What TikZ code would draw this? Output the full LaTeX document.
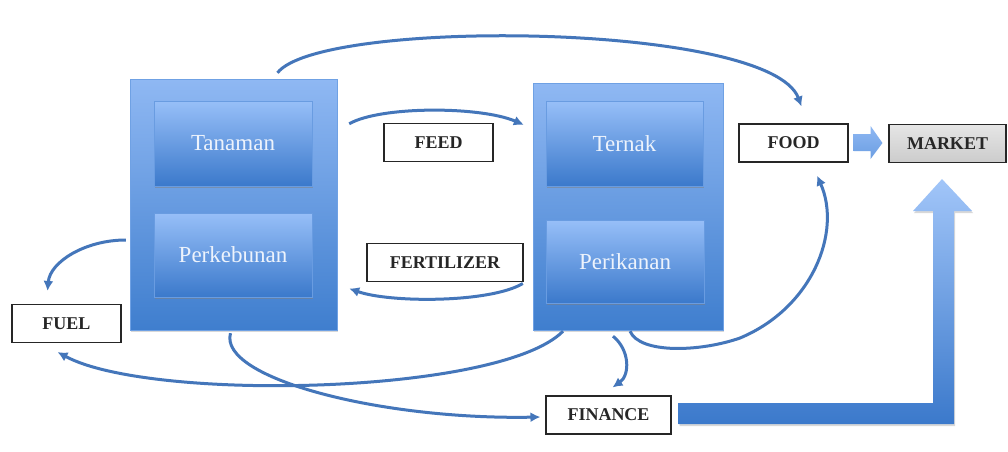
\documentclass[tikz,border=0pt]{standalone}
\usepackage{fontspec}
\setmainfont{Liberation Serif}
\usetikzlibrary{calc,arrows.meta,shadows}
\definecolor{arrowblue}{HTML}{4476BA}
\definecolor{outertop}{HTML}{8FB8F3}
\definecolor{outerbot}{HTML}{3F7ECE}
\definecolor{innertop}{HTML}{97BFF8}
\definecolor{innerbot}{HTML}{3B79CB}
\definecolor{labeltext}{HTML}{EDF3FC}
\tikzset{
  outerbox/.style={rectangle, top color=outertop, bottom color=outerbot, draw=outertop!60!outerbot, line width=0.4pt,
    drop shadow={shadow xshift=1pt, shadow yshift=-1.5pt, opacity=0.3}},
  innerbox/.style={rectangle, top color=innertop, bottom color=innerbot, draw=innertop!50!innerbot, line width=0.4pt,
    text=labeltext, font=\fontsize{23}{26}\selectfont, minimum width=158pt,
    drop shadow={shadow xshift=0.8pt, shadow yshift=-2pt, opacity=0.5}},
  labelbox/.style={rectangle, draw=black!85, line width=1.1pt, fill=white, text=black!85,
    font=\fontsize{18}{20}\selectfont\bfseries, minimum height=38pt, inner sep=0pt},
  flow/.style={draw=arrowblue, line width=3pt, -{Latex[length=10pt,width=10pt]}},
}
\begin{document}
\begin{tikzpicture}[x=1pt,y=-1pt]
\useasboundingbox (0,0) rectangle (1008,451);
\fill[white] (0,0) rectangle (1008,451);

% big blue containers
\node[outerbox, minimum width=207pt, minimum height=251pt] (L) at (233.5,204.5) {};
\node[outerbox, minimum width=190pt, minimum height=247pt] (R) at (628,206.5) {};

% inner boxes
\node[innerbox, minimum height=85pt] (Tan) at (233,143.5) {Tanaman};
\node[innerbox, minimum height=84pt] (Perk) at (233,255) {Perkebunan};
\node[innerbox, minimum width=157pt, minimum height=85pt] (Ter) at (624.5,143.5) {Ternak};
\node[innerbox, minimum height=83pt] (Peri) at (625,261.5) {Perikanan};

% label boxes
\node[labelbox, minimum width=109pt] (FEED) at (438.5,142.5) {FEED};
\node[labelbox, minimum width=156pt] (FERT) at (445,262.5) {FERTILIZER};
\node[labelbox, minimum width=109pt] (FUEL) at (66.5,323.5) {FUEL};
\node[labelbox, minimum width=109pt] (FOOD) at (793.5,143) {FOOD};
\node[labelbox, minimum width=117pt, top color=black!10, bottom color=black!20] (MARKET) at (947.5,143.5) {MARKET};
\node[labelbox, minimum width=125pt] (FINANCE) at (608.5,415) {FINANCE};

% block arrow FOOD -> MARKET
\shade[top color=outertop, bottom color=outertop!55!outerbot]
  ($(FOOD.east)+(5,-9)$) -- ++(17,0) -- ++(0,-8) -- ($(MARKET.west)+(-6,-0.5)$)
  -- ($(FOOD.east)+(22,16)$) -- ++(0,-8) -- ++(-17,0) -- cycle;

% big L-shaped arrow FINANCE -> MARKET
\shade[top color=innertop!90!white, bottom color=innerbot, drop shadow={shadow xshift=1pt, shadow yshift=-2pt, opacity=0.3}]
  ($(FINANCE.east)+(7,-12)$) -- (933,403) -- (933,211) -- (913,211)
  -- ($(MARKET.south)+(-5.5,16)$) -- (972,211) -- (954,211) -- (954,424)
  -- ($(FINANCE.east)+(7,9)$) -- cycle;

% connectors
\draw[flow] ($(L.north)+(44,-6)$) .. controls (320,18) and (770,22) .. ($(FOOD.north)+(8,-17)$);
\draw[flow] ($(L.north east)+(12,45)$) .. controls (380,106) and (480,106) .. ($(R.north west)+(-9,42)$);
\draw[flow] ($(R.west)+(-10,77)$) .. controls (490,303) and (390,303) .. ($(L.east)+(12,84)$);
\draw[flow] ($(L.west)+(-4,35.5)$) .. controls (85,240) and (50,262) .. ($(FUEL.north)+(-19,-13)$);
\draw[flow] ($(L.south)+(-3,3)$) .. controls (218,378) and (380,420) .. ($(FINANCE.west)+(-5,2)$);
\draw[flow] ($(R.south)+(-65,1)$) .. controls (500,395) and (150,402) .. ($(FUEL.south)+(-9,9)$);
\draw[flow] ($(R.south)+(-15,6)$) .. controls (630,350) and (630,375) .. ($(FINANCE.north)+(4,-8)$);
\draw[flow] ($(R.south)+(2,1)$) .. controls (640,354) and (700,352) .. (740,338)
  .. controls (812,308) and (842,232) .. ($(FOOD.south)+(23.5,13)$);
\end{tikzpicture}
\end{document}
